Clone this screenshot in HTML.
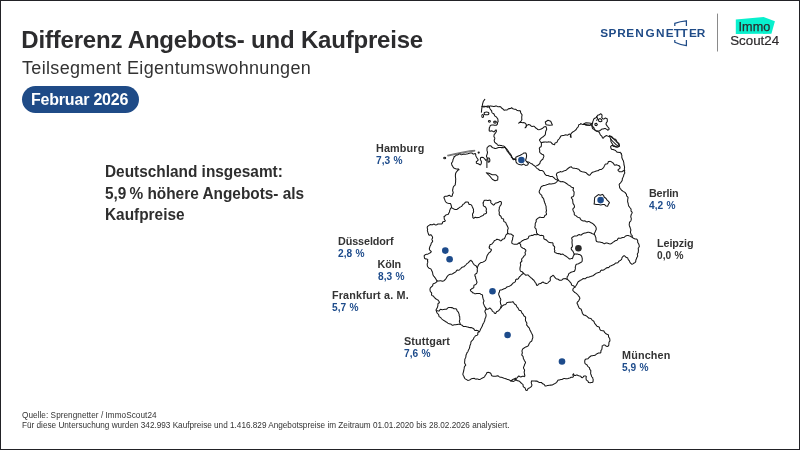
<!DOCTYPE html>
<html><head><meta charset="utf-8">
<style>
*{margin:0;padding:0;box-sizing:border-box}
html,body{width:800px;height:450px;overflow:hidden;background:#fff}
body{position:relative;font-family:"Liberation Sans",Arial,sans-serif;color:#2b2b2b}
.frame{position:absolute;left:0;top:0;width:800px;height:450px;border:1px solid #222226}
.t{position:absolute;white-space:nowrap;line-height:1}
#title{left:21.3px;top:27.5px;font-size:24px;font-weight:700;letter-spacing:-0.2px;color:#2c2c2e}
#sub{left:22px;top:58.5px;font-size:18px;letter-spacing:0.33px;color:#333}
#pill{position:absolute;left:21.5px;top:86px;width:117.5px;height:26.8px;border-radius:13.4px;background:#1f4b87}
#pilltxt{left:31px;top:92.1px;font-size:16px;font-weight:700;color:#fff;letter-spacing:-0.2px}
.de{left:104.8px;font-size:16.3px;font-weight:700;color:#2e2e2e;letter-spacing:0;transform-origin:0 0;transform:scaleX(0.945)}
.foot{left:22px;font-size:8.2px;color:#333}
.cn{font-size:10.8px;font-weight:700;color:#333;letter-spacing:-0.1px}
.cv{font-size:11.8px;font-weight:700;color:#1d4b8b;letter-spacing:0;word-spacing:0.8px;transform-origin:0 0;transform:scaleX(0.86)}
svg{position:absolute;left:0;top:0}
</style></head><body>
<div class="t" id="title">Differenz Angebots- und Kaufpreise</div>
<div class="t" id="sub">Teilsegment Eigentumswohnungen</div>
<div id="pill"></div>
<div class="t" id="pilltxt">Februar 2026</div>
<div class="t de" style="top:162.6px">Deutschland insgesamt:</div>
<div class="t de" style="top:184.7px">5,9&#8201;% höhere Angebots- als</div>
<div class="t de" style="top:206px">Kaufpreise</div>
<div class="t foot" style="top:411.9px;letter-spacing:0.05px">Quelle: Sprengnetter / ImmoScout24</div>
<div class="t foot" style="top:422.4px">Für diese Untersuchung wurden 342.993 Kaufpreise und 1.416.829 Angebotspreise im Zeitraum 01.01.2020 bis 28.02.2026 analysiert.</div>

<div class="t cn" style="left:376px;top:143px;letter-spacing:0.15px">Hamburg</div>
<div class="t cv" style="left:376px;top:155.15px">7,3 %</div>
<div class="t cn" style="left:338px;top:235.5px">Düsseldorf</div>
<div class="t cv" style="left:338px;top:247.65px">2,8 %</div>
<div class="t cn" style="left:377.5px;top:258.5px">Köln</div>
<div class="t cv" style="left:377.5px;top:270.65px">8,3 %</div>
<div class="t cn" style="left:332px;top:289.5px;letter-spacing:0.16px">Frankfurt a. M.</div>
<div class="t cv" style="left:332px;top:301.65px">5,7 %</div>
<div class="t cn" style="left:404px;top:336px;letter-spacing:0.12px">Stuttgart</div>
<div class="t cv" style="left:404px;top:348.15px">7,6 %</div>
<div class="t cn" style="left:649px;top:188px;letter-spacing:-0.2px">Berlin</div>
<div class="t cv" style="left:649px;top:200.15px">4,2 %</div>
<div class="t cn" style="left:657px;top:237.5px">Leipzig</div>
<div class="t cv" style="left:657px;top:249.65px;color:#333">0,0 %</div>
<div class="t cn" style="left:622px;top:350px;letter-spacing:0.15px">München</div>
<div class="t cv" style="left:622px;top:362.15px">5,9 %</div>

<svg width="800" height="450" viewBox="0 0 800 450">
<g fill="none" stroke="#161616" stroke-width="1.05" stroke-linejoin="round" stroke-linecap="round">
<path d="M482.1 106.6 482.9 106.5 483.7 106.2 484.5 106.2 485.3 106.6 486.1 106.8 486.9 106.5 487.7 106.0 488.5 106.0 489.4 106.7 489.5 107.5 489.8 108.2 490.2 109.0 490.6 109.6 491.2 110.3 491.7 110.9 491.7 111.7 492.0 112.5 492.5 113.1 493.3 113.5 494.0 114.0 494.3 114.8 494.6 115.6 495.1 116.2 495.9 116.6 496.5 117.1 497.0 117.8 497.5 118.4 497.9 119.3 497.9 120.2 498.1 121.0 498.1 121.7 497.6 122.3 497.5 123.2 497.4 124.1 496.9 124.7 496.2 125.2 495.2 125.3 494.3 125.3 493.5 125.0 492.6 125.0 491.8 125.1 491.0 125.2 490.1 125.9 489.9 126.7 489.5 127.4 489.2 128.2 489.4 129.0 489.1 129.8 489.3 130.8 490.0 131.3 491.0 131.1 491.7 130.7 492.5 131.1 493.4 131.7 494.4 131.8 494.9 131.0 495.4 130.3 496.0 129.8 496.5 131.0 496.2 131.7 495.8 132.5 495.4 133.2 494.8 133.8 494.3 134.4 494.1 134.9 494.0 135.8 493.9 136.6 494.3 137.3 494.8 138.1 494.7 138.9 494.3 139.7 494.2 140.5 494.4 141.3 494.6 142.1 495.2 142.7 495.9 143.2 496.6 143.6 497.1 144.3 497.6 144.9 498.2 145.5 499.0 145.3 499.8 145.3 500.6 145.5 501.4 145.6 502.1 145.8 502.9 146.0 503.7 146.1 504.5 146.5 505.0 147.0 505.4 147.7 506.0 148.3 506.6 148.9 507.1 149.5 507.6 150.1 508.0 150.8 508.4 151.5 508.8 152.2 509.4 152.8 510.0 153.3 510.4 154.0 510.9 154.7 511.3 155.4 511.3 156.3 511.3 157.2 512.0 157.9 512.7 158.3 513.4 158.7 514.3 158.8 515.1 158.9 515.8 159.3"/>
<path d="M482.1 106.6 482.9 106.8 483.7 106.9 484.5 106.9 485.3 106.5 486.1 106.3 487.0 106.7 487.8 107.2 488.6 107.1 489.4 106.4 490.1 105.9 491.0 106.0 491.8 106.2 492.6 106.2 493.4 106.4 494.2 106.5 495.0 106.2 495.9 105.9 496.7 106.1 497.4 106.5 498.2 106.8 499.1 106.7 499.9 106.5 500.7 106.9 501.3 107.7 501.9 108.3 502.6 108.7 503.1 109.1 503.6 109.7 504.4 110.2 505.2 110.0 506.1 110.0 506.9 110.0 507.6 109.6 508.3 108.9 509.0 108.6 509.9 108.6 510.8 108.5 511.3 107.8 511.6 107.8 512.3 108.3 512.9 108.8 513.7 109.0 514.6 109.2 515.4 109.3 516.1 109.6 516.8 110.2 517.5 110.6 518.3 110.7 519.1 110.8 520.0 110.7"/>
<path d="M520.0 110.7 520.5 111.4 520.6 112.2 520.8 113.0 521.3 113.7 521.8 114.3 522.1 115.1 522.0 115.4 521.8 116.2 521.8 117.0 521.7 117.8 521.8 118.7 521.9 119.6 521.5 120.3 521.1 121.0 520.6 121.7 519.9 122.1 519.2 122.5 518.7 123.2 519.3 122.7 520.1 122.3 520.9 122.5 521.8 122.6 522.6 122.7 523.5 122.6 524.3 122.7 525.3 123.2 525.8 123.9 526.2 124.5 526.5 125.7 526.4 126.5 525.7 127.2 525.0 127.8 525.9 127.5 525.9 126.6 526.2 125.8 527.0 125.2 527.7 124.9 528.4 124.5 529.4 124.8 530.2 125.1 530.8 125.7 531.4 126.3 532.2 126.4 533.2 126.2 534.1 126.3 534.7 126.9 535.3 127.5 535.9 128.0 536.6 128.5 537.2 128.9 537.8 129.6 538.9 129.7 539.7 129.5 540.4 129.3 541.3 128.9 542.0 128.6 542.7 128.2 543.3 127.6 543.9 127.0 544.7 126.7 545.5 126.6 546.2 127.0 546.4 127.8 546.6 128.6 546.7 129.4 546.4 130.1 545.9 130.8 545.7 131.6 545.5 132.4 545.6 132.9 545.4 133.9 545.2 134.8 544.6 135.4 544.1 135.9 543.4 136.5 542.7 137.0 542.1 137.4 541.4 137.9 540.9 138.4 540.4 139.0 539.8 139.5 539.4 140.1 539.8 140.8 540.3 141.5 540.8 142.1 541.3 142.7"/>
<path d="M541.3 142.7 542.1 142.5 542.8 142.2 543.6 142.1 544.4 142.1 545.2 142.0 546.1 142.0 546.9 142.2 547.7 142.0 548.2 141.8 549.0 141.9 549.8 142.0 550.7 142.0 551.2 142.6 551.7 143.2 552.2 143.8 553.0 144.3 553.7 144.6 554.5 144.8 554.8 144.0 554.9 143.1 555.7 142.7 556.7 142.4 557.2 141.8 557.5 141.0 557.9 140.3 558.3 139.6 558.9 139.1 559.4 138.5 559.8 137.8 560.3 137.2 560.6 136.4 561.1 135.8 561.9 135.7 562.7 135.6 563.5 135.5 564.3 135.2 565.0 134.9 565.8 134.8 566.7 135.1 567.5 135.2 568.2 134.8 568.9 134.2 569.7 134.0 570.8 135.1 570.9 135.8 571.0 136.6 571.1 137.4 570.4 137.0 570.4 136.2 570.5 135.4 570.7 134.6 571.0 133.9 571.5 133.1 572.1 132.5 572.8 132.0 573.4 131.6 574.1 131.2 574.6 130.8 575.2 130.3 575.9 129.8 576.3 129.3 576.7 128.6 577.1 127.9 577.7 127.4 578.2 126.7 578.5 125.9 578.6 125.1 579.1 124.5 580.1 124.2 580.9 123.7 580.7 123.5 581.5 123.9 582.2 124.2 583.0 124.4 583.5 124.5 584.3 124.5 585.1 124.6 585.9 124.6 586.8 124.7 587.6 125.0 588.4 125.1 589.1 125.3 589.9 125.4 590.5 125.1 591.2 124.7 592.2 125.1 592.0 126.0 592.1 126.8 592.3 127.6 592.5 128.4 593.3 129.1 594.2 129.4 594.8 129.9 595.3 130.5 596.0 130.9 596.8 131.2 597.6 131.3 598.3 131.7 599.2 132.4 599.6 133.0 599.9 133.8 600.2 134.5 600.6 135.2 601.2 135.7 601.8 136.2 602.2 137.0 602.4 137.9 603.5 138.1 604.0 137.2 604.6 136.6 605.3 136.2 606.0 135.8 606.8 135.6 607.8 136.1 608.4 136.4 609.2 136.3 610.1 136.1 610.8 136.3 611.6 136.6 612.3 137.1 612.7 137.8 613.1 138.5 613.8 138.9 614.7 139.0 615.5 139.2 616.0 139.9 616.5 140.7 616.9 141.4 617.3 142.2 617.7 142.9 618.3 143.4 618.5 143.7 618.7 144.5 618.9 145.3 619.2 145.7 618.6 146.3 618.0 147.0 617.1 147.0 616.3 146.8 615.5 146.6 614.7 146.6 613.8 146.5 613.1 146.1 612.5 145.4 611.6 145.5 611.1 146.1 610.6 146.7 610.8 147.6 611.0 148.4 611.5 149.2 612.3 149.4 613.2 149.5 613.9 149.9 614.6 150.1 615.4 150.4 616.0 151.0 616.5 151.8 617.4 152.2 618.2 152.3 619.0 152.4 619.8 152.4 620.1 152.2 620.6 152.8 621.2 153.4"/>
<path d="M621.2 153.4 621.3 154.2 621.7 155.0 621.9 155.7 621.8 156.6 621.8 157.4 622.0 158.1 622.4 158.9 622.6 159.6 623.1 160.3 623.4 161.1 623.6 161.9 623.8 162.7 623.9 163.4 623.9 164.2 624.0 165.0 624.3 165.8 624.5 166.6 624.6 167.4 624.4 168.2 624.4 169.1 624.4 169.9 624.3 170.7 624.3 171.3 624.6 172.2 624.8 173.0 624.4 173.7 623.9 174.5 623.7 175.3 623.6 176.1 623.4 176.5 623.0 177.2 622.7 177.9 622.3 178.7 622.3 179.6 622.2 180.4 621.7 181.2 621.3 181.9 620.8 182.5 620.3 183.1 619.7 183.7 619.2 184.3 619.2 184.6 619.3 185.4 619.5 186.2 619.6 187.0 619.6 187.6 620.0 188.3 620.6 188.9 621.1 189.6 621.6 190.2 622.3 190.7 622.9 191.2 623.5 191.6 624.3 192.0 625.0 192.4 625.5 193.1 625.9 193.7 626.5 194.3 626.5 195.0 626.6 195.8 627.2 196.5 627.9 197.1 628.1 197.9 627.8 198.8 627.7 199.7 627.7 200.5 627.6 201.3 627.7 202.1 628.0 202.8 628.2 203.6 628.3 204.4 628.5 205.2 628.7 206.0 629.2 206.7 629.7 207.3 630.2 208.0 630.8 208.6 631.1 209.4 631.0 210.3 631.1 211.1 631.7 211.7 632.2 212.4 632.0 213.2 631.5 214.0 631.2 214.7 631.0 215.5 630.8 216.3 630.8 217.1 631.2 218.0 631.3 218.8 631.2 219.6 631.0 220.4 630.7 221.1 630.0 221.7 629.5 222.4 629.4 223.2 629.3 224.0 629.2 224.8 629.4 225.7 629.6 226.3 629.9 227.0 630.2 227.8 630.4 228.5 630.7 229.3 630.9 230.1 630.7 231.0 630.4 231.9 630.5 232.6 630.8 233.4 631.0 234.2 631.5 234.9 632.2 235.6 632.2 236.4 632.1 237.3 632.8 237.8 633.5 238.2 634.2 238.6 635.0 238.9 635.8 238.9 636.6 239.1 637.1 239.5 637.5 240.2 637.7 241.0 637.7 241.8 637.8 242.6 638.3 243.3 638.7 244.0 639.0 244.8 639.2 245.6 639.4 246.3 638.9 247.2 638.4 247.9 638.2 248.7 638.4 249.6 638.4 250.4 638.3 251.2 638.3 252.0 638.1 252.8 637.6 253.5 637.3 254.2 637.5 255.1 637.7 256.0 637.4 256.7 636.9 257.4 636.6 258.2 636.5 258.8 636.1 259.5 635.8 260.2 635.8 261.2 635.5 262.0 634.8 262.6 634.1 263.0 633.5 263.5 632.8 263.9 631.7 264.2 631.1 263.6 630.5 263.1 630.0 262.4 629.7 261.7 629.4 260.9 628.9 260.3 628.3 259.7 628.0 258.9 627.9 258.1 627.3 257.7 626.5 257.4 625.7 257.1 625.2 256.5 624.6 255.8 623.7 255.8 623.1 256.4 622.4 257.1 622.1 257.4 621.9 258.2 621.7 259.0 621.3 259.7 620.7 260.2 620.0 260.6 619.3 261.0 618.6 261.5 618.3 262.1 617.7 262.8 616.9 263.0 616.0 263.0 615.2 263.3 614.7 263.9 614.1 264.5 613.3 264.8 612.6 265.1 611.8 265.4 611.1 265.7 610.3 265.9 609.7 266.4 609.1 267.1 608.5 267.6 607.6 267.6 606.8 267.7 606.1 268.2 605.5 268.7 604.8 269.1 604.2 269.6 603.6 270.1 602.7 270.3 601.7 270.1 600.9 270.4 600.4 271.2 600.0 272.0 599.3 272.3 598.4 272.5 597.7 272.8 596.9 273.1 596.1 273.3 595.5 273.8 594.9 274.3 594.2 274.8 593.6 275.3 592.9 275.8 592.1 276.0 591.3 276.2 590.6 276.5 589.8 276.8 589.1 277.1 588.3 277.3 587.5 277.3 586.8 277.4 586.1 278.0 585.4 278.7 584.6 278.7 583.7 278.5 582.9 278.7 582.3 279.2 581.6 279.7 580.9 280.0 580.3 280.2 579.8 280.8 579.0 281.2 578.2 281.7 577.8 282.4 577.5 283.1 577.1 283.9 576.7 284.5 576.3 285.2 575.8 285.9 575.2 286.5 574.8 287.1 574.2 287.6 573.6 288.0 573.1 288.7 572.9 289.6 572.7 290.1 573.2 290.8 573.7 291.4 574.3 292.0 574.9 292.5 575.6 292.9 576.2 293.4 576.8 293.9 577.4 294.5 578.0 295.1 578.3 295.6 578.9 296.3 579.4 296.9 579.7 297.6 579.9 298.4 579.6 299.1 579.2 299.8 578.9 300.5 578.4 301.2 577.7 301.7 577.2 302.4 577.1 303.6 577.6 304.2 577.9 305.0 578.2 305.8 578.5 306.5 578.8 307.3 579.2 308.0 579.9 308.5 580.8 308.9 581.3 309.5 581.5 310.3 581.8 311.1 582.1 311.9 582.2 312.7 582.5 313.5 583.0 314.1 583.5 314.8 584.3 315.3 585.2 315.3 586.0 315.7 586.6 316.1 587.3 316.6 587.8 317.2 588.4 317.8 589.1 318.2 589.9 318.3 590.7 318.4 591.5 319.1 591.9 319.8 592.5 320.4 593.1 320.8 593.8 321.3 594.2 322.0 594.4 322.9 594.9 323.6 595.4 324.2 595.9 324.8 596.4 325.4 596.9 326.1 597.5 326.6 598.5 326.8 599.3 327.2 599.6 328.0 599.7 328.9 600.1 329.6 600.7 330.3 601.5 330.6 602.3 330.7 603.2 330.7 603.9 331.0 604.3 331.9 604.8 332.7 605.4 333.2 606.1 333.7 606.5 334.1 607.4 334.4 608.3 334.7 608.5 335.6 608.5 336.6 608.7 337.1 609.2 337.8 609.7 338.5 609.8 339.3 609.9 340.1 609.9 340.9 609.4 341.6 609.0 342.3 608.9 343.1 608.9 344.0 608.8 344.8 608.7 345.4 608.2 346.1 607.4 346.4 606.4 346.3 605.8 345.8 605.2 345.3 604.5 344.9 603.8 344.9 603.1 345.4 602.4 345.8 602.1 345.9 602.2 346.7 602.1 347.5 602.0 348.3 601.9 349.1 601.6 349.9 601.0 350.4 600.9 351.3 600.9 352.3 600.1 353.1 599.2 353.0 598.4 353.1 597.7 353.4 597.0 353.8 596.2 354.2 595.6 354.8 595.0 355.3 594.2 355.4 593.3 355.5 592.5 355.7 591.7 355.8 590.9 356.0 590.3 356.5 589.6 357.0 589.0 357.5 588.5 358.2 587.9 358.8 587.1 358.9 586.0 359.0 585.4 359.4 584.9 360.1 584.7 361.3 584.8 362.1 584.8 362.9 585.1 363.6 586.0 364.2 586.8 364.6 587.2 365.2 587.6 366.0 588.1 366.6 588.7 367.1 589.3 367.5 589.6 368.4 589.8 369.4 590.3 370.0 590.8 370.4 590.8 371.3 590.7 372.1 590.7 372.9 590.6 373.2 590.8 374.0 591.1 374.8 591.4 375.6 591.6 376.5 592.1 377.1 592.7 377.6 592.7 377.9 592.9 378.7 593.2 379.6 593.1 380.4 593.1 381.2 592.7 382.2 591.8 382.5 590.8 382.6 590.7 382.7 589.9 382.7 589.0 382.6 588.4 382.4 588.2 381.6 587.7 380.9 586.9 380.4 586.3 379.8 586.1 378.8 586.0 378.0 586.2 377.2 586.4 376.6 585.8 376.1 585.0 375.9 584.2 375.9 583.6 376.4 583.1 377.1 582.5 377.7 581.4 377.5 581.0 376.5 580.3 376.1 579.5 376.0 578.7 375.8 577.9 375.4 577.2 375.1 576.4 375.0 575.5 375.4 574.5 375.5 574.0 374.7 573.5 373.8 572.8 374.9 573.2 375.8 573.4 376.7 572.7 377.3 571.9 377.2 571.1 377.3 570.3 377.8 569.6 378.1 568.8 378.3 568.0 378.6 567.2 378.7 566.4 378.7 565.6 378.7 564.8 378.6 564.0 378.5 563.3 378.7 562.5 379.3 561.7 379.5 560.9 379.6 560.1 379.7 559.5 379.9 558.7 380.0 557.9 380.3 557.5 381.0 557.1 381.7 556.6 382.3 555.9 383.0 555.2 383.4 554.5 383.8 553.8 384.1 553.1 384.5 552.2 384.9 551.4 385.1 550.6 385.1 549.8 385.2 549.0 385.3 548.2 385.4 547.4 385.5 546.7 385.7 545.9 385.9 545.1 386.0 544.6 385.1 544.2 384.4 543.4 384.1 542.6 383.8 542.0 383.2 541.6 382.6 540.8 382.4 540.0 382.5 539.1 382.4 538.4 382.0 537.7 381.5 537.1 381.1 536.2 381.1 535.4 381.1 535.0 380.9 534.2 380.9 533.4 380.9 532.4 381.0 531.5 380.9 532.0 380.8 531.4 381.6 531.2 382.4 531.4 383.2 531.6 384.0 531.9 384.7 531.8 385.6 531.5 386.4 530.9 387.0 530.2 387.4 529.5 387.9 528.7 388.2 528.1 388.5 527.7 389.4 527.3 390.3 526.3 390.4 525.5 389.8 525.7 389.3 525.3 388.6 524.9 387.8 524.3 387.4 523.6 387.0 523.2 386.4 523.1 385.6 523.1 384.8 522.5 384.0 521.8 383.6 521.2 383.0 520.6 382.5 520.1 381.9 519.5 381.3 518.7 381.0 517.9 380.8 517.4 380.7 516.7 380.2 516.0 379.8"/>
<path d="M516.0 379.8 514.8 379.5 516.0 378.3 515.6 378.3 512.8 379.5 510.9 381.0 513.6 381.4 516.3 379.8"/>
<path d="M510.9 381.0 510.2 380.5 509.5 380.1 508.8 379.8 508.0 379.6 507.2 379.4 506.5 379.0 505.8 378.7 505.0 378.4 504.2 378.3 503.4 378.0 502.9 377.7 502.1 377.5 501.3 377.3 500.5 377.2 499.7 377.1 499.0 376.6 498.3 375.9 497.6 375.7 496.7 375.9 495.9 376.2 495.1 376.2 494.3 376.3 493.5 376.3 492.5 376.1 491.8 375.7 491.3 374.9 491.1 373.9 490.7 373.2 489.8 372.7 489.0 372.4 488.2 372.3 487.2 372.4 486.7 373.1 486.3 373.9 485.9 374.6 485.4 375.1 485.1 375.7 484.7 376.5 484.1 377.2 483.4 377.6 482.6 377.9 481.9 378.3 481.2 378.6 480.5 379.1 479.8 379.5 478.8 379.5 478.0 379.1 477.2 379.0 476.4 379.1 475.7 379.1 474.9 378.8 474.0 378.3 473.2 378.4 472.4 378.5 471.6 378.7 470.8 379.1 470.1 379.7 469.4 380.0 468.6 380.3 467.8 380.4 467.0 379.9 466.2 379.4 466.1 379.4 465.3 378.9 464.7 378.3 464.3 377.6 464.0 376.8 463.7 376.0 463.2 375.3 462.9 374.6 462.9 373.8 463.2 372.8 463.4 372.0 463.6 371.3 463.8 370.5 463.9 369.7 464.1 368.9 464.2 368.1 464.3 367.3 464.6 366.5 465.1 365.9 465.7 365.3 465.6 364.5 465.0 363.9 464.6 363.1 464.6 362.3 464.7 361.3 464.8 360.5 464.8 359.7 464.9 358.9 465.3 358.2 465.7 357.4 465.9 356.6 465.9 355.8 466.1 355.0 466.4 354.2 466.7 353.5 467.0 352.7 467.6 352.1 468.0 351.4 468.2 350.6 468.5 349.9 468.9 349.2 469.3 348.5 469.6 347.7 469.7 347.0 469.8 346.2 470.0 345.4 470.4 344.6 470.7 343.9 470.8 343.1 470.9 342.3 471.1 341.7 471.7 341.0 472.2 340.4 472.7 339.8 473.3 339.3 473.6 338.6 473.9 337.7 474.4 337.0 474.9 336.5 475.4 335.9 476.2 335.4 477.2 335.2 477.8 334.7 477.8 333.7 477.8 332.7 478.4 332.2 479.3 331.8 478.7 331.1 477.9 330.8 477.2 330.4 476.4 330.3 475.5 330.4 474.6 330.2 474.1 329.4 473.6 328.6 472.9 328.2 472.2 327.9 471.3 327.6 470.5 327.6 469.7 327.6 468.9 327.4 468.1 327.1 467.4 326.9 466.6 326.7 465.8 326.4 465.0 326.5 464.1 326.6 463.3 326.4 462.7 325.8 462.1 325.2 461.4 324.9 460.6 324.5 459.9 324.2 459.1 324.2 458.2 324.2 457.5 324.5 456.8 324.6 456.0 324.7 455.2 324.8 454.4 324.8 453.6 325.0 452.8 325.3 452.1 325.2 451.5 324.7 450.9 324.1 450.1 323.9 449.3 323.7 448.5 323.5 447.8 323.1 447.3 322.7 446.7 322.2 445.8 321.8 445.2 321.3 444.6 320.9 443.9 320.6 443.3 320.1 442.6 319.6 442.0 319.1 441.4 318.5 440.9 317.8 440.3 317.3 439.5 316.9 439.0 316.4 438.8 315.4 438.6 314.6 438.1 314.0 437.5 313.4 437.0 312.8 436.7 312.1 436.5 311.3 436.2 310.5 436.0 310.0 436.4 309.2 436.8 308.5 437.2 307.9 437.5 307.1 437.7 306.3 437.9 305.5 437.9 304.6 437.9 303.8 438.5 303.2 439.4 302.7 439.2 301.7 438.7 301.0 438.2 300.4 437.6 299.7 436.8 299.4 436.1 299.0 435.5 298.5 434.9 298.0 434.3 297.4 433.9 296.8 433.4 296.1 432.5 295.8 431.8 295.4 431.5 294.5 431.7 293.5 431.5 292.7 430.9 292.1 430.3 291.5 430.1 290.5 430.0 289.7 430.0 288.9 430.4 287.9 430.9 287.3 431.5 286.7 432.2 286.3 432.7 285.6 432.8 284.7 433.1 283.9 433.9 283.5 434.8 283.2 435.4 282.8 436.1 282.4 436.8 281.9 437.1 280.6 436.4 280.0 436.0 279.3 435.6 278.6 435.2 277.9 434.7 277.3 434.2 276.7 433.7 276.1 433.3 275.4 432.9 274.8 432.8 274.0 432.7 273.2 432.5 272.5 432.3 271.7 431.8 270.9 431.5 270.2 431.2 269.5 430.7 268.8 429.8 268.5 429.0 268.2 428.5 267.6 427.9 267.0 427.4 266.1 427.3 265.3 427.2 264.5 427.3 263.6 427.6 262.9 427.8 262.1 427.6 261.2 427.5 260.4 427.9 259.8 427.3 259.3 426.6 258.9 425.7 259.0 424.5 258.3 424.4 257.5 424.3 256.7 424.1 255.9 425.0 254.9 425.7 254.5 426.5 254.3 427.4 254.2 428.1 253.9 428.9 253.5 429.6 253.1 430.3 252.7 430.9 252.3 431.3 251.4 430.6 251.0 430.0 250.4 429.6 249.7 429.3 249.0 429.5 248.2 429.7 247.4 429.9 246.6 430.2 245.9 430.6 245.2 431.0 244.5 431.1 243.6 431.4 242.9 431.9 242.4 432.6 241.6 432.6 240.8 432.1 240.0 431.9 239.2 432.4 238.4 432.6 237.4 432.3 236.6 431.9 235.9 431.6 235.2 430.6 234.8 429.6 235.3 428.6 234.7 428.4 233.8 428.1 233.0 427.9 232.2 427.6 231.4 427.3 230.7 427.4 230.4 427.6 229.6 427.5 228.8 427.2 227.9 427.3 227.1 427.7 226.3 428.3 225.8 429.0 225.4 429.7 224.9 430.4 224.6 431.5 224.7 431.9 224.9 432.8 224.6 433.6 224.1 434.4 224.3 435.2 224.7 435.9 225.0 436.7 224.8 437.4 224.3 438.1 224.0 439.0 224.1 439.8 224.0 440.6 224.0 441.5 224.0 442.3 223.5 442.5 222.4 443.0 221.7 443.9 221.5 444.8 221.5 445.3 220.4 444.7 219.8 444.3 219.1 444.2 218.2 444.2 217.4 443.9 216.7 444.0 216.8 444.7 216.3 445.3 215.7 445.8 215.0 446.6 214.8 447.5 214.6 448.3 214.3 448.6 213.5 449.0 212.7 449.5 212.0 449.6 211.3 449.7 210.5 450.0 209.8 450.3 209.0 450.7 208.3 451.4 207.8 451.6 207.1 451.4 206.3 451.2 205.5 451.0 204.7 450.7 204.0 450.6 203.6 449.8 203.5 449.0 203.5 448.2 203.3 447.4 203.0 446.7 202.7 446.0 202.1 445.5 201.5 445.1 200.7 444.9 199.8 444.7 199.5 444.3 198.6 443.9 197.7 444.2 197.0 445.0 196.3 445.3 196.2 446.1 196.2 446.9 196.3 447.7 196.1 448.5 195.5 449.3 195.3 450.1 195.8 450.9 196.4 452.3 196.0 452.3 195.1 452.5 194.3 452.9 193.6 453.2 192.8 453.1 192.0 452.7 191.1 452.6 190.3 452.8 189.5 452.9 188.7 453.1 187.9 453.3 187.1 453.6 186.4 454.3 185.8 455.1 185.2 455.3 184.5 455.3 183.6 455.5 182.8 455.6 182.0 455.6 181.2 455.6 180.4 455.7 179.6 455.7 178.8 455.6 178.0 455.5 177.2 455.4 176.4 455.4 175.6 455.4 174.8 455.6 174.0 455.7 173.2 456.1 172.4 456.8 171.7 457.2 171.0 457.4 170.7 458.0 170.0 458.9 170.0 459.0 169.4 458.3 168.9 457.4 169.0 456.5 169.0 455.7 168.7 455.0 168.4 454.3 168.2 453.6 167.7 453.1 167.1 452.7 166.3 452.2 165.7 451.9 165.0 451.7 164.2 451.5 163.4 451.9 162.5 452.5 161.8 452.8 161.1 452.9 160.3 453.0 159.5 453.3 159.0 453.6 158.2 453.9 157.5 454.2 156.7"/>
<path d="M454.2 156.7 454.9 156.3 455.5 155.8 456.1 155.3 456.7 154.9 457.5 155.0 458.3 154.5 459.1 153.9 459.9 153.9 460.7 154.4 461.5 154.7 462.3 154.5 463.1 154.2 463.9 154.1 464.7 154.2 465.5 154.2 466.3 154.1 467.1 153.9 467.9 153.8 468.7 153.4 469.4 153.2 470.3 153.0 471.1 152.9 471.9 153.0 472.7 153.7 473.5 154.1 474.3 153.7 475.3 153.6 475.7 154.3 475.7 155.1 475.9 155.9 476.3 156.7 476.7 157.4 477.0 158.0 477.5 158.7 477.9 159.3 478.2 160.1 477.6 160.6 477.0 161.2 476.3 161.7 476.4 163.1 477.1 163.6 478.1 163.7 478.8 164.0 479.5 164.6 480.3 164.9 480.9 164.3 481.3 163.6 481.3 163.1 481.4 162.3 481.4 161.4 481.0 160.7 480.6 160.0 480.3 159.1 480.5 158.3 480.8 157.5 482.0 157.2 483.2 157.4 483.7 157.9 484.3 158.5 484.7 158.9 485.3 159.6 485.9 160.4 487.0 159.7 487.2 158.8 487.2 158.0 486.9 157.2 486.5 156.5 486.5 155.7 486.9 154.8 487.2 154.1 487.3 153.3 487.5 152.5 487.4 151.7 487.1 150.9 487.0 150.1 487.0 149.3 487.0 148.4 487.3 147.4 487.9 146.9 488.5 146.3 489.5 145.8 490.3 145.7 491.4 146.2 491.8 146.9 492.3 147.6 493.0 147.8 493.8 148.0 494.5 148.3 494.9 148.5 495.7 148.4 496.5 148.3 497.1 148.0 497.9 147.7 498.7 147.5 499.5 147.4 500.3 147.5 501.1 147.6 501.8 147.6 502.6 147.6 503.4 147.7 504.2 147.6 505.1 147.5 505.5 148.2 506.0 148.9 506.4 149.6 506.8 150.3 507.1 151.0 507.6 151.6 508.2 152.2 508.6 152.9 509.1 153.5 509.6 154.2 510.1 154.8 510.8 155.3 511.3 155.9 511.7 156.5 512.1 157.2 512.5 158.0 512.6 159.0 513.3 159.7 514.3 159.5 515.1 159.5 515.8 160.0"/>
<path d="M515.8 157.3 517.8 156.3 520.2 155.3 522.7 153.9 523.6 153.1 525.6 152.9 526.3 153.9 526.6 155.8 526.3 157.8 525.6 160.2 526.6 161.7 528.5 163.6 527.6 165.1 525.6 165.4 523.6 164.1 521.7 164.9 519.2 164.6 517.3 163.6 516.1 162.2 515.8 160.2 515.8 157.3"/>
<path d="M526.6 161.5 527.3 161.9 528.2 162.0 529.0 162.2 529.7 162.6 530.4 163.1 531.1 163.5 531.8 163.8 532.5 164.3 533.1 164.8 533.7 165.3 534.4 165.8 535.1 166.2 535.7 166.7 536.1 167.5 536.7 168.1 537.4 168.6 538.1 169.0 538.7 169.5 539.3 170.0 540.0 170.5 541.0 170.5 542.0 170.5 542.7 170.9 543.3 171.4 543.9 172.0 544.3 172.9 544.6 173.7 545.2 174.3 545.7 174.9 546.5 175.5 547.4 175.5 548.2 175.6 548.9 175.9 549.7 176.3 550.4 176.6 551.3 176.5 552.2 176.4 552.9 176.9 553.5 177.5 554.2 177.9 554.8 178.6 555.4 179.2 556.1 179.5 556.9 179.8 557.6 180.2 558.4 180.6 559.1 180.9 559.9 181.3 560.6 181.7 561.4 181.8 562.4 181.6 563.2 181.7 564.0 182.0 564.7 182.4 565.4 182.8 566.1 183.2 566.8 183.7 567.4 184.2 568.0 184.7 568.7 185.1 569.4 185.5 570.2 185.9 570.7 186.3 571.2 187.0 571.9 187.3 572.8 187.6 573.5 188.0"/>
<path d="M541.3 142.7 541.4 143.5 541.4 144.3 541.4 145.1 541.3 146.0 541.0 146.8 540.2 147.1 539.5 147.8 539.3 148.6 539.6 149.5 539.7 150.0 539.7 150.9 539.6 151.9 540.0 152.6 540.6 153.2 541.3 153.8 542.0 154.2 542.8 154.5 543.5 155.0 543.9 156.1 543.7 156.9 543.4 157.6 543.1 158.4 542.8 159.2 542.0 159.7 541.4 160.3 540.9 160.9 540.4 161.5 540.1 162.3 539.9 163.3 539.4 163.9 538.9 164.5 538.2 165.0 537.4 165.3 536.7 165.8"/>
<path d="M558.3 180.0 557.9 179.3 557.4 178.6 557.1 177.9 557.1 177.0 557.0 176.2 556.6 175.5 556.4 174.5 556.6 173.8 557.3 172.9 558.1 172.6 558.8 172.2 559.6 171.9 560.3 171.6 561.2 171.8 562.0 171.9 562.8 171.5 563.5 171.1 564.3 170.7 565.1 170.6 565.8 170.4 566.5 169.8 567.1 169.2 567.7 168.8 568.3 168.2 569.0 167.7 569.7 167.3 570.4 166.9 571.4 166.8 572.0 167.6 572.7 168.1 573.5 168.2 574.3 168.2 575.0 168.3 575.9 168.4 576.7 168.6 577.5 168.9 578.3 169.1 579.0 169.5 579.5 170.2 580.0 170.8 580.8 171.2 581.5 171.6 582.3 171.8 583.1 171.9 583.9 172.0 584.7 172.2 585.5 172.4 586.2 172.8 586.7 173.4 587.4 174.0 588.0 174.5 588.6 175.0 589.4 175.3 590.3 174.7 590.7 174.0 591.3 173.4 591.8 172.8 592.5 172.3 593.4 172.0 594.1 171.8 594.9 171.5 595.6 171.2 596.4 170.9 597.2 170.8 598.0 170.8 598.7 170.3 599.4 169.7 600.0 169.6 600.9 169.5 601.8 169.2 602.4 168.7 603.0 168.2 603.6 167.6 604.0 166.8 604.3 166.1 604.7 165.4 605.0 164.6 605.6 164.0 606.6 164.0 607.5 163.7 607.9 162.9 608.2 162.0 608.8 161.5 609.7 161.4 609.8 161.3 610.6 161.6 611.5 161.8 612.1 162.3 612.7 162.8 613.4 163.2 613.8 164.0 614.2 164.8 615.0 165.3 615.8 164.9 616.6 164.7 617.4 165.1 618.3 165.6 619.1 165.6 619.2 165.7 619.6 166.4 620.1 167.1 620.0 168.1 619.5 168.7 618.9 169.2 618.3 169.8 617.8 169.9 618.2 170.5 618.8 171.1 619.3 171.8 620.1 171.8 620.9 171.7 621.8 171.8 622.5 171.5 623.2 170.7 624.0 170.6 624.8 170.8"/>
<path d="M594.8 197.3 596.8 195.8 598.5 194.6 600.2 195.3 602.4 194.4 603.6 195.3 604.1 197.0 606.1 198.5 607.1 200.2 608.5 201.4 609.5 202.7 608.5 204.1 607.6 206.3 606.1 206.1 604.6 204.6 602.7 204.4 600.7 204.9 598.8 204.6 596.3 204.4 594.1 204.1 594.4 202.2 594.4 200.2 594.8 197.3"/>
<path d="M558.3 180.0 557.6 180.4 557.2 181.2 556.7 181.9 556.1 182.4 555.5 183.0 554.6 183.3 553.8 183.6 553.0 183.8 552.2 183.8 551.4 183.9 550.5 183.9 549.7 183.8 548.9 183.9 548.1 184.2 547.4 184.4 546.6 184.8 545.9 185.1 545.1 185.3 544.3 185.4 543.5 185.6 542.7 185.9 542.0 186.3 541.3 186.7 540.7 187.5 540.6 188.3 540.2 189.1 539.9 189.8 539.6 190.1 539.3 191.1 539.1 192.0 539.5 192.7 539.9 193.4 540.3 194.1 541.1 194.7 541.7 195.1 541.9 195.9 542.0 196.9 542.5 197.5 543.1 198.0 543.6 198.7 543.8 199.5 544.0 200.3 544.2 201.0 544.4 201.8 544.7 202.6 544.9 203.3 545.3 204.1 545.5 204.9 545.8 205.6 546.1 206.4 546.1 207.2 546.1 208.0 546.2 208.8 546.3 209.6 546.5 210.4 546.3 211.3 546.0 212.1 546.1 212.6 546.5 213.6 546.5 214.5 545.7 215.0 544.8 215.5 544.6 216.3 544.4 216.9 543.7 217.4 542.9 217.4 542.1 217.4 541.3 217.4 540.4 217.2 539.5 217.2 538.8 217.7 538.1 218.1 537.5 218.6 536.9 219.2 536.3 219.8 536.1 220.3 536.3 221.1 536.1 221.9 535.6 222.6 535.3 223.4 535.2 224.2 535.2 225.0 535.2 225.8 534.9 226.6 534.8 227.5 535.3 228.2 536.0 228.9 536.2 229.7 536.3 230.4 536.5 231.2 536.5 232.0 536.5 232.9 537.1 233.5 537.5 234.2"/>
<path d="M573.5 188.0 573.3 188.8 573.1 189.6 573.1 190.4 573.7 191.2 574.1 192.0 574.1 192.8 574.0 193.6 574.0 194.4 573.8 195.5 573.4 196.2 572.7 196.7 571.7 197.1 571.3 197.9 572.0 198.8 572.6 199.4 572.7 200.2 572.7 201.1 572.9 201.8 572.9 202.6 573.0 203.4 573.5 204.1 574.0 204.9 574.3 205.6 574.5 206.4 574.4 207.3 573.8 208.0 573.0 208.6 572.8 209.4 573.1 210.4 573.4 211.2 573.8 211.9 574.2 212.6 574.3 213.4 574.2 214.3 574.6 215.0 575.3 215.4 576.1 215.8 576.7 216.3 577.3 216.9 577.9 217.3 578.6 217.5 579.5 217.7 580.1 218.2 580.5 219.2 581.1 219.8 581.7 220.3 582.6 220.7 583.3 220.9 584.2 220.8 585.0 220.9 585.7 221.3 586.3 221.8 587.1 221.9 588.2 221.5 589.1 221.5 589.7 221.9 590.4 222.3 591.1 222.7 591.8 223.1 592.6 223.4 593.2 224.0 593.9 224.6 594.2 225.0 594.8 225.5 595.0 225.8 595.5 226.5 596.0 227.3 596.1 228.1 596.3 228.8 596.1 229.8 595.7 230.5 595.4 231.2 595.1 232.0 594.7 232.7 594.5 233.4 594.2 234.2"/>
<path d="M594.2 234.2 594.7 234.9 595.0 235.5 595.3 236.3 595.6 237.1 595.9 237.8 595.9 238.4 596.0 239.2 596.0 240.0 596.2 240.8 596.6 241.6 597.4 241.8 598.2 242.0 598.9 242.0 599.8 242.0 600.6 242.2 601.4 242.4 602.2 242.6 602.9 242.9 603.6 243.4 604.4 243.7 605.3 243.3 606.2 242.9 607.0 243.0 607.8 243.2 608.4 243.4 609.3 243.7 610.1 243.9 610.9 243.7 611.7 243.2 612.3 243.0 612.9 242.4 613.6 241.9 614.2 241.5 614.9 241.0 615.6 240.6 616.4 240.5 617.1 240.1 617.6 239.4 617.9 238.7 618.6 238.1 619.5 238.3 620.4 238.3 621.2 238.0 621.9 237.7 622.6 237.5 623.4 237.4 624.2 237.3 624.9 236.7 625.6 236.0 626.4 235.7 627.3 235.5 628.2 235.6 628.9 235.8 629.7 235.9 630.5 236.3 631.2 236.8 632.0 237.0"/>
<path d="M594.2 234.2 593.4 234.1 592.6 233.8 591.9 233.5 591.2 233.0 590.4 232.7 589.6 232.4 588.8 232.2 587.9 232.3 587.1 232.5 586.3 232.7 585.6 232.9 584.8 233.0 584.0 233.3 583.2 233.6 582.5 233.9 581.8 234.5 581.1 235.1 580.2 235.0 579.3 234.6 578.5 234.7 577.8 235.3 577.1 235.8 576.2 235.9 575.4 235.9 574.6 236.0 573.8 236.4 573.2 236.7 572.5 237.2 571.7 237.8 571.7 238.6 572.1 239.4 572.2 240.3 572.1 241.1 572.0 241.9 572.0 242.6 572.1 243.4 572.2 244.3 572.3 245.1 572.4 245.9 572.3 246.8 571.5 247.5 571.2 248.3 571.3 249.1 571.8 249.9 572.3 250.6 572.9 251.2 573.3 251.9 573.6 252.7 573.9 253.4 574.2 254.2"/>
<path d="M574.2 254.2 574.0 255.0 573.5 255.7 573.1 256.4 573.0 257.2 572.7 257.9 572.2 258.6 572.3 258.4 571.4 258.4 570.4 258.9 569.6 259.0 568.8 258.5 568.2 257.9 567.5 257.4 566.9 256.8 566.3 256.3 565.5 256.0 564.9 255.5 564.2 255.1 563.6 254.6 562.9 254.1 561.8 254.3 560.8 254.5 560.2 254.0 559.7 253.7 558.9 253.6 557.9 253.6 557.1 253.4 556.4 253.1 555.6 252.8 554.9 252.4 554.4 251.5 554.9 251.0 554.7 250.2 554.4 249.4 554.4 248.5 554.7 247.7 554.6 246.7 554.0 246.1 553.3 245.5 553.0 244.7 553.1 243.8 552.6 242.8 551.8 242.7 550.9 242.7 550.1 242.5 549.3 242.4 548.5 242.1 547.9 241.5 547.3 240.8 546.7 240.3 546.0 239.8 545.6 239.8 544.7 239.2 543.9 238.7 543.7 237.9 543.8 237.0 543.6 236.2 543.0 235.6 542.2 235.4 541.4 235.3 540.5 235.5 539.7 235.3 539.0 234.9 538.2 234.5 537.5 234.2"/>
<path d="M574.2 254.2 575.0 254.0 575.8 254.1 576.6 254.1 577.4 254.0 578.0 254.2 578.8 254.5 579.7 254.6 580.4 255.0 581.2 255.7 581.7 256.3 581.9 257.1 582.1 257.9 582.3 258.8 582.2 259.7 582.2 260.5 582.2 261.1 581.7 261.8 581.1 262.3 580.3 262.7 579.6 263.0 578.9 263.5 578.2 263.9 577.4 264.1 576.5 264.2 575.9 264.8 575.7 265.6 575.5 266.4 575.2 267.2 575.4 268.0 575.3 268.9 575.1 269.6 574.9 270.4 574.2 271.4 573.4 271.5 572.6 271.8 571.8 272.0 571.0 272.3 570.3 272.7 569.6 273.1 569.0 273.5 568.5 274.3 568.4 275.1 568.0 275.8 567.5 276.4 567.2 276.7 567.1 277.6 567.0 278.5 567.3 279.2 568.0 279.8 568.5 280.3 569.1 280.9 569.7 281.5 570.1 282.2 570.7 282.7 571.2 283.4 571.4 284.3 571.7 285.1 572.4 285.5 573.4 285.7 574.0 286.2 574.4 286.9 575.0 287.5"/>
<path d="M567.5 279.2 566.7 279.2 565.9 278.8 565.1 278.6 564.2 278.7 563.4 278.8 562.7 279.2 562.0 279.9 561.2 280.2 560.3 280.3 559.5 280.2 558.8 279.7 558.1 279.2 557.3 279.0 556.5 278.9 555.8 278.4 555.3 277.8 554.7 277.2 554.4 276.9 553.9 275.9 552.9 275.3 552.3 275.8 551.6 276.5 550.9 276.7 550.4 277.4 550.1 278.1 550.2 279.0 550.4 279.8 550.2 280.6 549.7 281.3 549.3 281.4 548.7 282.0 548.1 282.6 547.5 283.1 546.5 283.6 545.7 283.4 545.0 283.1 544.2 282.9 543.5 282.5 543.2 282.0 542.4 282.3 541.7 282.7 541.0 283.2 540.4 283.6 539.7 283.8 538.9 283.8 538.3 284.5 537.6 285.3 536.9 285.5 536.3 284.3 536.1 283.5 535.6 282.9 535.1 282.3 534.7 281.6 534.3 280.9 533.9 280.2 533.2 279.7 532.5 279.2 532.2 278.7 531.6 278.2 530.9 277.7 530.3 277.2 529.7 276.6 529.1 276.1 528.6 275.4 527.9 274.9 526.9 275.0 525.9 275.2 525.2 274.8 524.7 274.1 524.0 273.7 523.3 273.3"/>
<path d="M519.2 243.0 519.8 243.6 520.4 244.2 520.8 244.9 520.6 245.9 521.1 246.8 521.7 247.3 522.3 247.8 523.0 248.2 523.9 248.4 524.5 248.8 525.1 249.5 525.7 250.0 525.9 250.8 525.5 251.7 525.0 252.4 525.2 253.3 525.4 254.2 525.2 254.9 524.6 255.6 524.1 255.9 523.6 256.6 523.2 257.3 522.6 257.9 522.0 258.5 521.6 259.3 521.7 260.2 521.9 261.1 521.4 261.8 520.7 262.3 520.3 263.1 520.5 264.0 520.7 264.9 520.6 265.6 520.3 266.4 520.2 267.1 520.1 268.0 519.9 268.8 520.0 269.6 520.2 270.4 520.7 271.3 521.6 271.6 522.4 271.9 522.9 272.6 523.3 273.3"/>
<path d="M519.2 243.0 519.9 242.6 520.6 242.1 521.3 241.6 521.9 241.0 522.6 240.5 523.3 240.2 524.1 239.8 524.9 239.5 525.8 239.4 526.6 239.1 527.3 238.7 528.1 238.4 528.5 237.5 528.8 236.4 529.4 236.0 530.4 235.8 531.2 235.5 531.8 235.2 532.6 235.4 533.5 235.1 534.3 234.5 534.9 234.4 535.9 234.7 536.8 234.7 537.5 234.2"/>
<path d="M507.5 233.3 508.3 233.6 509.0 233.9 509.8 234.1 510.6 234.0 511.4 234.3 512.1 234.8 512.7 235.3 513.4 235.8 513.1 236.6 512.8 237.3 512.7 238.1 512.6 239.0 512.5 239.7 512.1 240.5 511.9 241.2 511.8 242.1 511.8 242.9 512.1 243.4 512.8 243.8 513.5 244.1 514.3 244.3 515.2 244.3 515.3 244.2 516.3 244.3 517.1 244.2 517.8 243.8 518.5 243.3 519.2 243.0"/>
<path d="M451.7 207.5 452.3 208.1 453.0 208.5 453.7 208.9 454.5 209.2 455.2 209.5 455.5 209.5 456.4 209.5 457.1 209.2 457.8 208.7 458.5 208.2 459.0 207.9 459.6 207.4 460.3 207.0 461.1 206.6 461.8 206.2 462.2 205.5 462.6 204.9 463.1 204.3 463.9 203.9 464.5 203.3 465.0 202.7 465.6 202.1 466.3 202.1 467.2 202.0 468.3 202.3 468.6 203.1 468.8 204.0 469.4 204.5 470.3 204.6 471.1 204.7 471.7 205.5 472.2 206.3 472.3 206.9 472.7 207.6 473.0 208.3 473.4 208.8 473.5 209.6 473.4 210.5 473.6 211.3 473.6 212.1 473.2 212.9 472.7 213.6 472.5 214.4 472.5 215.2 472.8 215.8 472.8 216.7 472.8 217.6 473.8 218.4 474.5 217.6 475.2 217.2 476.1 217.5 477.0 217.8 477.8 217.6 478.6 217.5 479.4 217.3 480.1 216.9 480.8 216.4 481.6 216.1 482.3 215.8 483.1 215.5 483.6 214.7 484.1 214.0 484.9 213.9 485.9 213.6 486.5 213.0 486.6 211.9 486.1 211.2 486.2 210.3 486.4 209.5 486.4 208.7 485.9 207.8 485.5 207.1 484.8 206.5 483.9 206.2 483.3 205.5 483.3 204.6 483.3 203.7 483.0 203.0 482.9 203.0 483.5 202.5 483.7 201.5 484.1 200.6 485.0 200.2 485.8 200.3 486.6 200.2 487.5 200.4 488.3 200.5 489.0 200.1 489.9 200.2 490.6 200.5 490.9 201.4 490.7 202.3 491.1 203.0 491.8 203.7 492.3 203.9 492.9 204.6 493.5 205.1 494.5 204.5 494.9 203.6 495.6 203.1 496.4 203.0 497.1 202.7 497.9 202.4 498.8 202.2 498.9 201.8 499.9 201.6 500.8 201.5 501.4 202.4 501.4 203.2 501.3 204.0 501.0 204.9 500.4 205.4 500.0 206.1 499.7 206.8 499.3 207.4 499.3 208.3 499.3 209.1 499.0 209.8 498.9 210.4 499.0 211.1 499.2 211.9 499.4 212.7 499.2 213.5 499.2 214.5 499.6 215.2 500.3 215.7 500.9 216.3 501.2 217.0 501.4 217.8 501.9 218.4 502.9 218.8 503.6 219.3 503.7 220.2 503.7 221.1 504.2 221.8 505.1 222.1 505.8 222.6 506.1 223.4 506.3 224.2 506.7 224.9 507.2 225.6 507.4 226.3 507.8 227.0 508.1 227.7 508.2 228.6 507.9 229.3 507.6 230.0 507.6 230.9 507.7 231.7 507.6 232.5 507.5 233.3"/>
<path d="M507.5 233.3 507.2 234.0 506.4 234.5 505.8 235.1 505.6 235.9 505.3 236.7 505.0 237.4 504.7 238.2 504.2 238.8 503.4 239.0 502.6 239.2 502.0 239.8 501.5 240.6 500.7 240.9 500.1 240.6 499.6 239.9 498.8 239.7 497.9 239.6 497.2 239.2 496.6 239.3 496.1 239.9 495.3 240.3 494.5 240.6 494.0 241.2 493.6 242.0 493.1 242.6 492.5 243.2 492.0 243.9 491.3 244.2 490.4 244.4 489.8 245.0 489.7 245.9 489.6 246.9 489.1 246.8 489.2 247.8 489.6 248.6 490.4 248.9 491.3 249.2 491.4 250.2 490.9 250.9 490.6 251.6 490.3 252.0 489.5 252.3 488.9 252.9 488.5 253.6 487.9 254.3 487.5 255.0 487.1 255.7 486.8 256.5 486.7 257.3 486.4 258.1 486.2 258.9 485.9 259.7 485.5 260.4 484.7 261.1 484.0 261.5 483.2 261.9 482.5 262.2 481.7 262.4 480.9 262.6 480.2 263.0 479.6 263.6 479.0 264.2 478.6 264.7 478.2 265.5 477.9 266.2 477.5 266.9 477.3 267.7"/>
<path d="M477.3 267.7 476.8 267.1 476.4 266.3 475.9 265.7 475.0 265.3 474.3 264.9 473.8 264.2 473.3 263.6 472.9 262.9 472.6 262.2 472.2 261.5 471.5 261.0 470.8 260.6 471.0 260.2 470.3 260.6 469.6 261.1 469.1 261.7 468.7 262.4 468.1 262.9 467.3 263.4 466.7 263.9 466.2 264.5 465.6 265.1 465.0 265.6 464.5 266.3 463.9 266.8 463.0 266.9 462.2 267.2 461.6 267.7 461.0 268.3 460.4 268.8 459.8 269.5 459.2 270.1 458.4 270.2 457.3 270.0 456.6 270.4 456.2 271.3 455.6 272.0 454.9 272.4 454.2 272.8 453.5 273.2 452.8 273.6 452.2 274.0 451.3 274.2 450.4 274.2 449.6 274.5 448.8 274.9 448.1 275.4 447.6 276.0 447.1 276.7 446.6 277.3 446.3 278.1 445.8 278.8 445.3 279.4 444.8 280.0 444.0 280.7 443.2 281.1 442.5 281.3 441.6 281.0 440.7 280.7 439.9 280.8 439.1 280.9 438.3 280.9 437.5 281.0 436.7 281.0"/>
<path d="M477.3 267.7 477.4 268.5 477.2 269.4 477.2 270.2 477.5 270.9 477.3 271.3 477.1 272.1 476.9 273.0 476.4 273.6 475.5 274.0 474.9 274.6 474.9 275.5 475.2 276.5 475.6 276.8 475.6 277.6 475.7 278.5 476.1 279.2 476.3 280.0 476.5 280.7 476.8 281.5 477.0 282.6 476.6 283.3 476.2 284.0 475.7 284.6 474.7 284.9 474.0 285.3 473.8 286.2 473.9 287.2 473.4 287.9 472.5 288.2 471.8 288.7 471.2 289.2 470.4 289.7 470.5 290.9 471.4 291.4 472.1 291.9 472.4 292.7 472.7 292.7 473.5 292.9 474.2 293.4 475.0 293.7 475.8 293.8 476.6 293.6 477.4 293.5 478.2 293.5 479.0 293.4 479.8 293.4 480.1 293.7 480.7 294.2 481.7 294.4 482.5 295.1 482.6 295.9 482.6 296.7 482.8 297.4 483.0 298.2 483.2 299.0 483.5 299.7 483.9 300.5 483.9 301.3 483.4 302.2 483.3 303.1 483.6 303.9 483.9 304.6 484.2 305.4 484.5 306.1 484.9 306.9 485.6 307.5 486.0 308.2 486.0 309.0"/>
<path d="M486.0 309.0 485.7 309.8 485.2 310.4 484.9 311.2 485.0 312.1 485.4 312.8 485.7 313.6 486.0 314.4 486.1 315.4 486.0 316.2 485.8 317.0 485.5 317.7 485.1 318.5 484.9 319.3 484.8 320.1 484.7 320.8 484.3 321.6 484.0 322.3 483.6 323.1 483.1 323.8 482.8 324.5 482.5 325.3 482.3 326.1 481.9 326.8 481.5 327.5 481.2 328.1 480.8 328.8 480.4 329.5 480.1 330.4 479.8 331.1 479.2 331.7"/>
<path d="M486.0 309.0 486.8 309.2 487.6 309.2 488.4 308.9 489.1 308.4 489.8 308.0 490.7 308.6 491.2 309.3 491.8 309.8 492.1 310.4 492.3 311.1 493.1 311.6 494.0 312.1 494.2 312.9 494.8 313.5 495.6 313.4 496.2 312.6 496.5 311.8 497.2 311.4 498.0 311.1 498.7 310.7 499.1 310.2 499.5 309.5 500.1 308.9 500.7 308.3 501.0 307.5"/>
<path d="M501.0 307.5 500.8 306.7 501.2 305.9 501.3 305.1 500.8 304.3 500.5 303.5 500.5 302.7 500.3 301.9 500.3 301.1 500.7 300.2 500.8 299.4 500.5 298.6 500.0 297.8 499.7 297.1 499.4 296.3 499.1 295.6 498.8 295.0 498.7 294.2 498.8 293.3 499.1 292.5 499.4 292.2 499.5 291.3 499.7 290.4 500.3 290.0 501.1 290.0 501.9 289.8 502.7 289.4 503.4 289.1 504.2 288.8 505.0 288.6 505.7 288.2 506.3 287.5 506.9 287.0 507.7 286.7 508.5 286.6 509.3 286.3 510.0 285.9 510.7 285.5 511.4 285.0 511.9 284.4 512.4 283.8 513.0 283.2 513.6 282.7 514.3 282.4 515.1 281.9 515.5 281.2 515.6 280.3 515.9 279.5 516.8 279.1 517.8 279.2 518.4 278.7 518.8 277.7 519.3 277.0 519.9 276.5 520.3 276.1 520.8 275.5 521.4 274.9 522.0 274.3 522.8 274.0 523.3 273.3"/>
<path d="M501.0 307.5 501.6 306.9 502.1 306.2 502.7 305.6 503.4 305.2 504.0 304.8 504.8 304.7 505.7 304.4 506.2 303.7 506.6 303.0 507.0 302.6 507.8 302.5 508.6 302.3 509.4 302.2 510.0 302.1 510.8 302.3 511.7 302.1 512.6 301.7 513.4 302.0 513.9 303.0 514.3 303.7 515.0 304.2 515.7 304.6 516.2 305.2 516.5 306.1 516.9 306.8 517.5 307.4 517.9 307.8 518.3 308.6 518.6 309.3 519.0 310.0 519.8 310.5 520.7 310.6 521.2 311.2 521.5 312.2 521.9 313.0 522.6 313.5 522.9 313.9 523.2 314.6 523.6 315.3 524.0 316.0 524.8 316.5 525.6 317.2 525.6 318.1 525.5 318.9 525.4 319.7 525.5 320.5 525.7 321.0 526.1 321.7 526.5 322.4 526.9 323.1 526.7 324.1 526.7 325.1 527.2 325.7 527.7 326.3 528.2 327.0 528.8 327.5 529.3 328.1 529.6 328.9 529.8 329.7 530.1 330.4 530.5 331.0 530.9 331.8 531.2 332.5 531.7 333.2 532.0 333.9 532.4 334.7 532.7 335.5 532.7 336.3 532.8 337.1 532.8 337.9 532.4 338.8 532.1 339.6 532.1 340.1 531.7 341.0 531.1 341.5 530.4 341.9 530.0 342.4 529.6 343.0 529.1 343.7 528.8 344.5 528.5 345.5 527.9 346.1 527.1 346.4 526.4 346.7 525.7 347.0 525.0 347.4 524.4 347.8 523.7 348.3 522.9 348.7 522.5 349.4 522.2 350.2 521.9 350.8 522.1 351.6 522.3 352.3 522.3 353.2 521.9 354.0 521.8 354.9 522.3 355.7 523.0 356.3 523.2 357.0 523.3 357.9 523.4 358.7 523.8 359.3 524.2 360.1 524.5 360.8 525.1 361.6 525.5 362.3 525.3 363.3 524.8 364.0 524.5 364.8 524.3 365.6 524.0 366.3 523.6 367.1 523.5 367.9 523.8 368.7 524.3 369.4 524.6 370.2 524.5 371.0 524.2 371.8 524.2 372.6 524.4 373.4 524.5 374.2 524.7 375.0 524.9 375.8 524.2 376.6 523.3 376.2 522.7 376.2 521.8 376.6 520.9 377.0 520.2 376.7 519.4 376.2 518.5 376.1 517.9 376.8 517.5 377.6 516.8 378.0 516.0 378.3"/>
<path d="M436.7 310.8 437.5 310.8 438.4 311.0 439.2 310.9 439.8 309.9 440.5 309.3 441.4 309.4 442.3 309.7 443.1 309.6 443.9 309.4 444.7 309.3 445.5 309.2 446.4 309.2 447.1 308.8 447.7 308.0 448.4 307.6 449.2 307.5 450.1 307.5 450.9 307.6 451.7 307.6 452.5 307.8 453.2 308.3 454.0 308.8 454.7 308.8 455.6 308.8 456.4 309.1 456.9 310.0 456.9 310.4 457.4 311.1 458.1 311.8 458.5 312.5 458.7 313.2 459.1 313.9 459.2 314.8 459.2 315.7 459.6 316.4 459.8 317.0 459.7 317.8 459.8 318.7 459.9 319.5 459.7 320.1 459.4 321.0 459.4 321.8 459.8 322.6 460.1 323.4 460.0 324.2"/>
<path d="M486.3 172.7 489.0 173.3 492.3 174.7 495.7 174.7 497.9 176.7 497.7 180.0 495.0 180.7 492.3 179.3 490.3 176.7 487.7 174.0 486.3 172.7"/>
<path d="M487.7 158.0 489.2 158.0 489.9 159.9 489.6 161.8 488.1 162.2 487.7 158.0"/>
<path d="M486.9 160.7 486.9 167.5"/>
<path d="M447.5 155.3 455.0 153.6 462.0 152.2 470.0 150.7 474.8 150.3 474.8 151.2 470.0 151.7 462.0 153.1 455.0 154.5 448.0 156.0" stroke-width="0.65" stroke="#2a2a2a"/>
<path d="M545.3 122.0 548.0 120.3 550.7 121.3 552.4 125.0 549.3 125.3 546.0 124.7 545.3 122.0"/>
<path d="M591.7 125.6 592.0 124.9 592.3 124.1 592.5 123.3 592.7 122.5 592.8 121.7 593.1 120.9 593.4 120.2 593.6 119.4 594.0 118.7 594.7 118.2 595.5 117.9 596.3 117.6 596.9 117.1 597.1 116.2 597.5 115.4 598.2 115.0 599.1 114.9 599.8 114.5 600.4 113.8 601.4 114.2 601.9 114.8 602.1 115.8 601.9 116.6 601.7 117.4 601.9 117.7 602.5 118.3 603.1 119.0 604.1 119.0 604.7 118.4 605.4 118.0 606.1 118.3 606.9 118.6 607.3 119.3 607.2 120.1 607.4 120.9 607.3 121.5 606.8 122.2 606.4 122.7 606.1 123.5 606.0 124.2 606.4 124.9 606.9 125.6 607.3 126.3 607.8 126.9 608.4 127.5 608.8 128.0 609.1 128.8 609.0 129.3 608.4 129.9 608.0 130.2 607.3 129.7 606.7 129.2 606.0 128.9 605.3 128.5 604.7 128.5 603.9 128.7 603.1 128.9 602.3 129.0 601.5 129.3 600.9 129.8 600.3 130.3 599.6 130.8 599.1 131.1 598.3 130.9 597.5 130.9 596.6 130.9 595.8 130.6 595.1 130.2 594.7 129.4 594.3 128.7 594.0 127.9 593.5 127.3 592.9 126.7 592.3 126.1 591.7 125.6"/>
<path d="M609.3 135.7 609.9 136.2 610.7 136.6 611.4 137.0 612.1 137.5 612.7 138.0 613.3 138.5 613.9 139.1 614.5 139.7 615.0 140.3 615.6 140.9 616.2 141.5 616.7 142.1 617.4 142.6 618.2 142.9 618.9 143.4 619.2 144.4 619.4 145.2 619.5 146.0 618.8 146.6 618.0 146.8 617.2 146.9 616.4 147.1 615.6 146.8 615.0 146.2 614.3 145.8 613.5 145.4 612.9 144.9 612.5 144.1 612.1 143.4 611.7 142.7 611.2 142.0 610.9 141.2 610.9 140.3 611.0 139.5 610.7 138.7 610.3 138.0 609.9 137.2 609.5 136.5 609.3 135.7"/>
<path d="M484.8 99.4 483.4 101.2 482.6 103.9 482.1 106.6 481.7 109.2 481.4 112.3"/>
<path d="M598.3 119.5 599.8 118.6 601.6 119.4 601.9 121.2 600.3 121.8 598.8 121.2 598.3 119.5"/>
<path d="M594.8 124.0 596.2 123.2 597.4 124.3 596.6 125.6 595.2 125.4 594.8 124.0"/>
<path d="M596.5 116.5 597.6 118.4 596.8 120.4"/>
<path d="M610.8 139.3 613.4 142.0 616.1 144.7 617.9 145.6"/>
<ellipse cx="486.5" cy="113.4" rx="2.4" ry="1.4"/>
<ellipse cx="482.7" cy="116" rx="0.9" ry="1.5"/>
<ellipse cx="489.4" cy="121.3" rx="1" ry="0.9"/>
<ellipse cx="495" cy="122.1" rx="1.4" ry="1"/>
<ellipse cx="444.7" cy="158" rx="1" ry="0.8"/>
<circle cx="478.7" cy="152.6" r="0.6"/>
<path d="M583.5 124 L586 122.8 L589 123 L592 123.6 L589.5 125.2 L586.5 125.2 Z"/>

</g>

<circle cx="521.4" cy="160" r="3.3" fill="#1d4b8b"/>
<circle cx="600.6" cy="200.1" r="3.3" fill="#1d4b8b"/>
<circle cx="578.4" cy="248.3" r="3.3" fill="#2a2a2a"/>
<circle cx="445.3" cy="250.6" r="3.3" fill="#1d4b8b"/>
<circle cx="449.6" cy="259.3" r="3.3" fill="#1d4b8b"/>
<circle cx="492.5" cy="291.2" r="3.3" fill="#1d4b8b"/>
<circle cx="507.6" cy="335" r="3.3" fill="#1d4b8b"/>
<circle cx="562" cy="361.5" r="3.3" fill="#1d4b8b"/>

<!-- Sprengnetter logo -->
<text x="600.37 608.57 617.22 626.25 635.19 645.43 656.04 665.7 673.79 680.39 689.1 696.87" y="37.4" font-family="Liberation Sans, Arial, sans-serif" font-weight="700" font-size="11.8" fill="#1f4b87">SPRENGNETTER</text>
<path d="M674.8 26 V23.3 Q680 21.3 686.4 20.8 V26 M674.8 40 V42.3 Q680 44.8 686.4 45.6 V40" fill="none" stroke="#1f4b87" stroke-width="1.25"/>
<line x1="717.5" y1="13.6" x2="717.5" y2="51.5" stroke="#8a8a8a" stroke-width="1"/>
<polygon points="735.8,19.6 763.6,17.1 774.9,21.3 771.4,33.8 735.8,34.1" fill="#08f0cd"/>
<text x="738.6" y="30.6" font-family="Liberation Sans, Arial, sans-serif" font-size="13" fill="#2d2a2c" stroke="#2d2a2c" stroke-width="0.25" textLength="31.6" lengthAdjust="spacingAndGlyphs">Immo</text>
<text x="730.2" y="44.8" font-family="Liberation Sans, Arial, sans-serif" font-size="13" fill="#2d2a2c" stroke="#2d2a2c" stroke-width="0.2" textLength="48.9" lengthAdjust="spacingAndGlyphs">Scout24</text>
</svg>
<div class="frame"></div>
</body></html>
